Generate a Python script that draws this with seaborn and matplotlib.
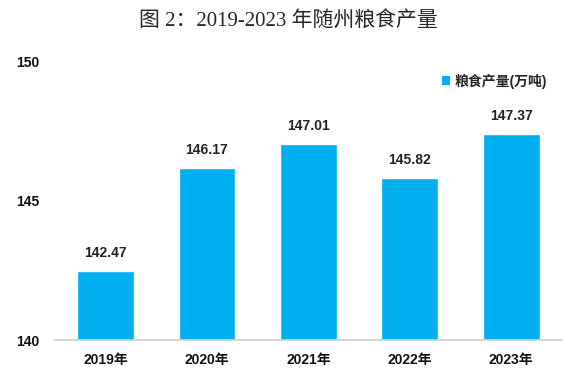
import matplotlib.pyplot as plt
import pandas as pd
import seaborn as sns
from matplotlib.patches import Patch

years = ["2019年", "2020年", "2021年", "2022年", "2023年"]
output = [142.47, 146.17, 147.01, 145.82, 147.37]
series_name = "粮食产量(万吨)"
title = "图 2：2019-2023 年随州粮食产量"

BAR_COLOR = "#00B0F0"
SANS = ["Liberation Sans", "Noto Sans CJK SC"]
SERIF = ["Liberation Serif", "Noto Sans CJK SC"]

sns.set_theme(style="white")
plt.rcParams["font.family"] = SANS

df = pd.DataFrame({"year": years, "output": output})

fig = plt.figure(figsize=(5.77, 3.77), dpi=100)
ax = fig.add_axes([0.095, 0.098, 0.879, 0.74])

sns.barplot(data=df, x="year", y="output", color=BAR_COLOR, width=0.56,
            saturation=1, ax=ax)

ax.set_ylim(140, 150)
ax.set_yticks([140, 145, 150])
ax.set_xlabel("")
ax.set_ylabel("")
ax.bar_label(ax.containers[0], fmt="%.2f", padding=8,
             fontsize=10, fontweight="bold", color="#222222")

for lbl in ax.get_xticklabels() + ax.get_yticklabels():
    lbl.set_fontweight("bold")
    lbl.set_fontsize(10)
    lbl.set_color("#111111")
ax.tick_params(axis="y", length=0, pad=11)
ax.tick_params(axis="x", length=0, pad=9)

sns.despine(ax=ax, left=True)
ax.spines["bottom"].set_color("#d0d0d0")

handle = Patch(facecolor=BAR_COLOR, edgecolor="none")
ax.legend([handle], [series_name], loc="upper right", frameon=False,
          bbox_to_anchor=(0.995, 1.0), handlelength=0.6, handleheight=0.6,
          handletextpad=0.3, prop={"family": SANS, "weight": "bold", "size": 10})

fig.suptitle(title, x=0.5, y=0.97, fontsize=15, family=SERIF)

fig.savefig("out.png", dpi=100, facecolor="white")
